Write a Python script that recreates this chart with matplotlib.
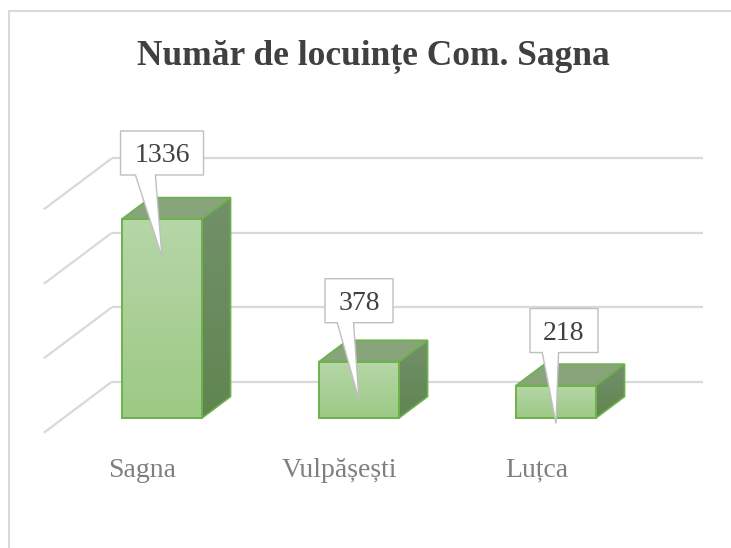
import numpy as np
import matplotlib
matplotlib.use("Agg")
import matplotlib.pyplot as plt
from matplotlib.patches import Polygon, Rectangle
from matplotlib.colors import LinearSegmentedColormap

plt.rcParams["font.family"] = "serif"
plt.rcParams["font.serif"] = ["Liberation Serif", "Times New Roman", "DejaVu Serif"]

# --- data -------------------------------------------------------------
categories = ["Sagna", "Vulpășești", "Luțca"]
locuinte = [1336, 378, 218]
gridline_values = [0, 500, 1000, 1500]
title = "Număr de locuințe Com. Sagna"

# --- layout (pixels at 100 dpi) ---------------------------------------
W, H = 731, 548
PX_PER_CAT = 197.0
PX_PER_VAL = 199.0 / 1336.0
ORIGIN_X, ORIGIN_Y = 162.0, 418.0          # first category centre, zero line (from top)
BAR_HALF = 40.0 / PX_PER_CAT
DEPTH_PX = (68.0, 51.0)                     # full floor depth, display units
D_FRONT, D_BACK = 0.29, 0.71                # bar position inside the floor depth
WALL_LEFT, WALL_RIGHT = -0.5, 2.5

fig = plt.figure(figsize=(W / 100, H / 100), dpi=100)
ax = fig.add_axes([0, 0, 1, 1])
ax.axis("off")


def proj(x, v, d):
    """Oblique projection: shift a front-plane point back by depth d."""
    return (x + (d - D_FRONT) * DEPTH_PX[0] / PX_PER_CAT,
            v + (d - D_FRONT) * DEPTH_PX[1] / PX_PER_VAL)


# gridlines: left wall diagonals + back wall horizontals
grid_kw = dict(color="#d9d9d9", lw=1.6, solid_capstyle="butt", zorder=1)
for gv in gridline_values:
    a = proj(WALL_LEFT, gv, 0.0)
    b = proj(WALL_LEFT, gv, 1.0)
    c = proj(WALL_RIGHT, gv, 1.0)
    ax.plot([a[0], b[0]], [a[1], b[1]], **grid_kw)
    ax.plot([b[0], c[0]], [b[1], c[1]], **grid_kw)

front_cmap = LinearSegmentedColormap.from_list("front", ["#9cc984", "#b6d6a8"])
side_cmap = LinearSegmentedColormap.from_list("side", ["#5f8650", "#73906a"])
edge = "#6cb24a"
grad = np.linspace(0, 1, 256).reshape(-1, 1)

for i, (name, v) in enumerate(zip(categories, locuinte)):
    x0, x1 = i - BAR_HALF, i + BAR_HALF
    # side face
    side = [proj(x1, 0, D_FRONT), proj(x1, v, D_FRONT),
            proj(x1, v, D_BACK), proj(x1, 0, D_BACK)]
    sp = Polygon(side, closed=True, facecolor="none", edgecolor=edge, lw=1.2, zorder=3)
    ax.add_patch(sp)
    sx = [p[0] for p in side]
    sy = [p[1] for p in side]
    im = ax.imshow(grad, cmap=side_cmap, origin="lower", aspect="auto",
                   extent=(min(sx), max(sx), min(sy), max(sy)), zorder=2)
    im.set_clip_path(sp)
    # top face
    top = [proj(x0, v, D_FRONT), proj(x1, v, D_FRONT),
           proj(x1, v, D_BACK), proj(x0, v, D_BACK)]
    ax.add_patch(Polygon(top, closed=True, facecolor="#87a47a",
                         edgecolor=edge, lw=1.2, zorder=3))
    # front face with vertical gradient
    fr = Rectangle((x0, 0), x1 - x0, v, facecolor="none",
                   edgecolor=edge, lw=1.4, zorder=5)
    ax.add_patch(fr)
    im = ax.imshow(grad, cmap=front_cmap, origin="lower", aspect="auto",
                   extent=(x0, x1, 0, v), zorder=4)
    im.set_clip_path(fr)

    # category label at the front edge of the floor
    lx, ly = proj(i, 0, 0.0)
    ax.annotate(name, (lx, ly), xytext=(0, -44), textcoords="offset pixels",
                ha="center", va="baseline", fontsize=20, color="#7f7f7f")

# value callouts
rise = [44, 39, 33]
shift = [0, 0, 8]
for i, v in enumerate(locuinte):
    label = str(v)
    w_px = 15 * len(label) + 23
    h_px = 44
    bw = w_px / PX_PER_CAT
    cx = i + shift[i] / PX_PER_CAT
    bl = cx - bw / 2
    br = cx + bw / 2
    bb = v + rise[i] / PX_PER_VAL
    bt = bb + h_px / PX_PER_VAL
    tip = (i, v - 38 / PX_PER_VAL)
    pts = [(bl, bb), (bl + 0.18 * bw, bb), tip, (bl + 0.42 * bw, bb),
           (br, bb), (br, bt), (bl, bt)]
    ax.add_patch(Polygon(pts, closed=True, facecolor="white",
                         edgecolor="#bfbfbf", lw=1.0, zorder=6))
    ax.annotate(label, (cx, (bb + bt) / 2), xytext=(0, -9), textcoords="offset pixels",
                ha="center", va="baseline", fontsize=20, color="#404040", zorder=7)

ax.set_xlim(-ORIGIN_X / PX_PER_CAT, (W - ORIGIN_X) / PX_PER_CAT)
ax.set_ylim((ORIGIN_Y - H) / PX_PER_VAL, ORIGIN_Y / PX_PER_VAL)

# title and chart border
fig.text(373 / W, 1 - 64 / H, title, ha="center", va="baseline",
         fontsize=25.5, fontweight="bold", color="#404040")
fig.add_artist(Rectangle((9 / W, -0.5), 2.0, 1.5 - 11 / H, transform=fig.transFigure,
                         facecolor="none", edgecolor="#d9d9d9", lw=1.5))

fig.savefig("out.png", dpi=100)
